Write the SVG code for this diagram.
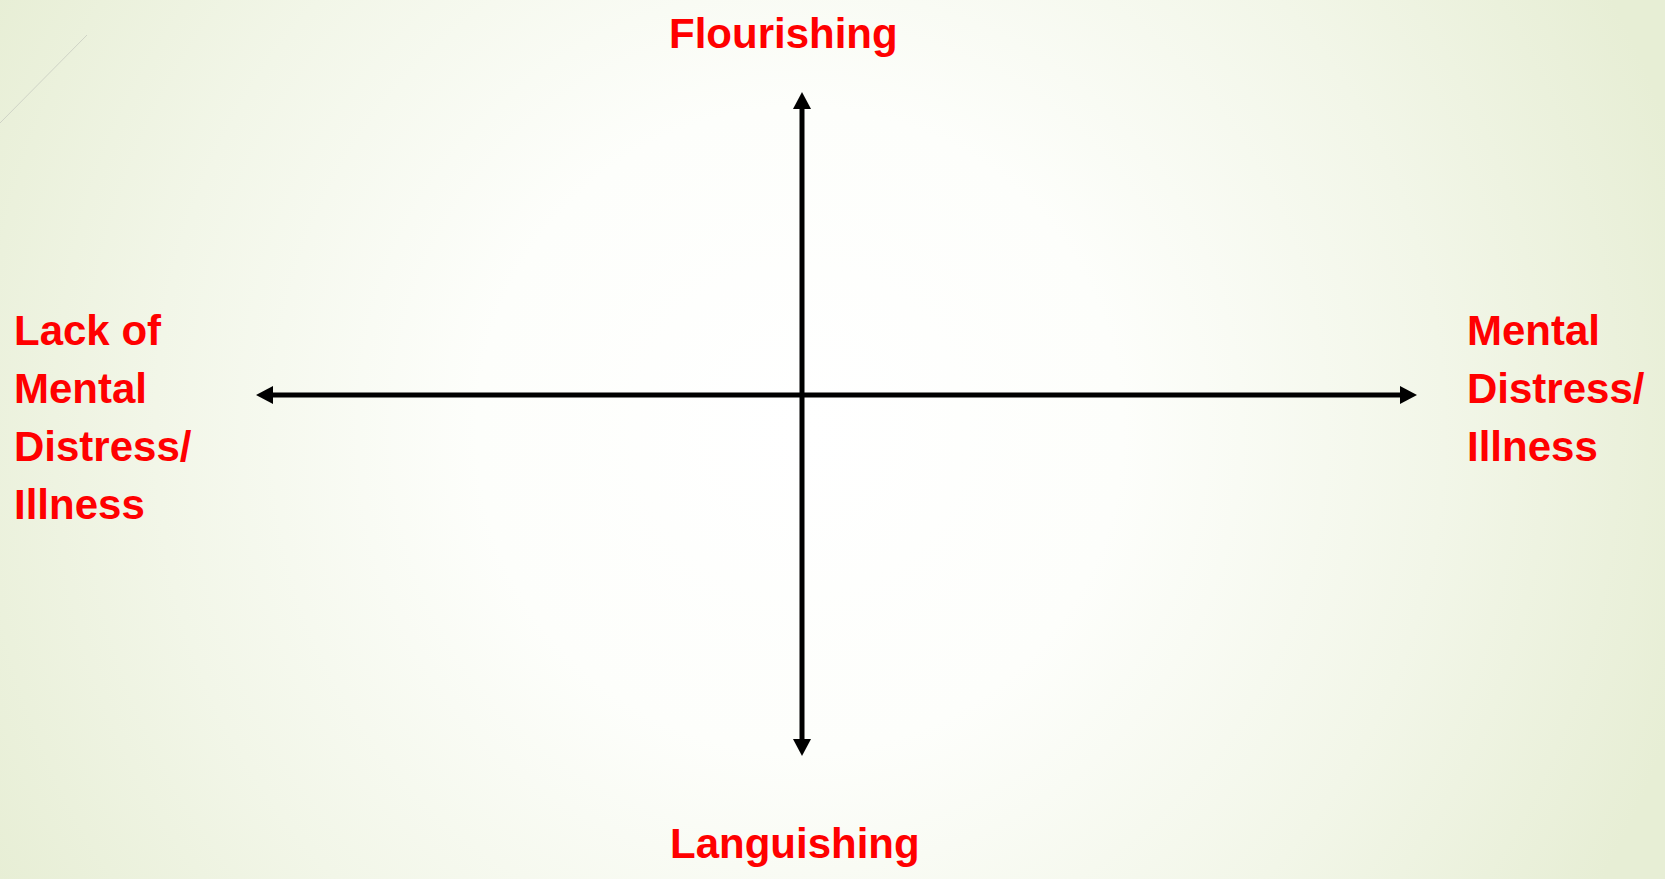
<svg xmlns="http://www.w3.org/2000/svg" width="1665" height="879" viewBox="0 0 1665 879">
  <defs>
    <radialGradient id="bg" gradientUnits="userSpaceOnUse" cx="800" cy="430" r="920" fx="800" fy="430">
      <stop offset="0" stop-color="#ffffff"/>
      <stop offset="0.35" stop-color="#fdfefb"/>
      <stop offset="0.7" stop-color="#f2f6e8"/>
      <stop offset="1" stop-color="#e7eed5"/>
    </radialGradient>
    <style>
      .lbl { font-family: "Liberation Sans", Arial, sans-serif; font-weight: bold; font-size: 42px; fill: #ff0000; }
      .axis { stroke: #000; stroke-width: 5; fill: none; }
      .head { fill: #000; }
    </style>
  </defs>
  <rect x="0" y="0" width="1665" height="879" fill="url(#bg)"/>
  <line x1="0" y1="123" x2="87" y2="35" stroke="#cfd3c6" stroke-width="1"/>
  <g id="connectors">
    <line class="axis" x1="270" y1="395" x2="1403" y2="395"/>
    <polygon class="head" points="256,395 273,386 273,404"/>
    <polygon class="head" points="1417,395 1400,386 1400,404"/>
    <line class="axis" x1="802" y1="106" x2="802" y2="742"/>
    <polygon class="head" points="802,92 793,109 811,109"/>
    <polygon class="head" points="802,756 793,739 811,739"/>
  </g>
  <g id="flourishing"><text class="lbl" x="669" y="48">Flourishing</text></g>
  <g id="languishing"><text class="lbl" x="670" y="858">Languishing</text></g>
  <g id="lack-of-illness">
    <text class="lbl" x="14" y="345">Lack of</text>
    <text class="lbl" x="14" y="403">Mental</text>
    <text class="lbl" x="14" y="461">Distress/</text>
    <text class="lbl" x="14" y="519">Illness</text>
  </g>
  <g id="illness">
    <text class="lbl" x="1467" y="345">Mental</text>
    <text class="lbl" x="1467" y="403">Distress/</text>
    <text class="lbl" x="1467" y="461">Illness</text>
  </g>
</svg>
